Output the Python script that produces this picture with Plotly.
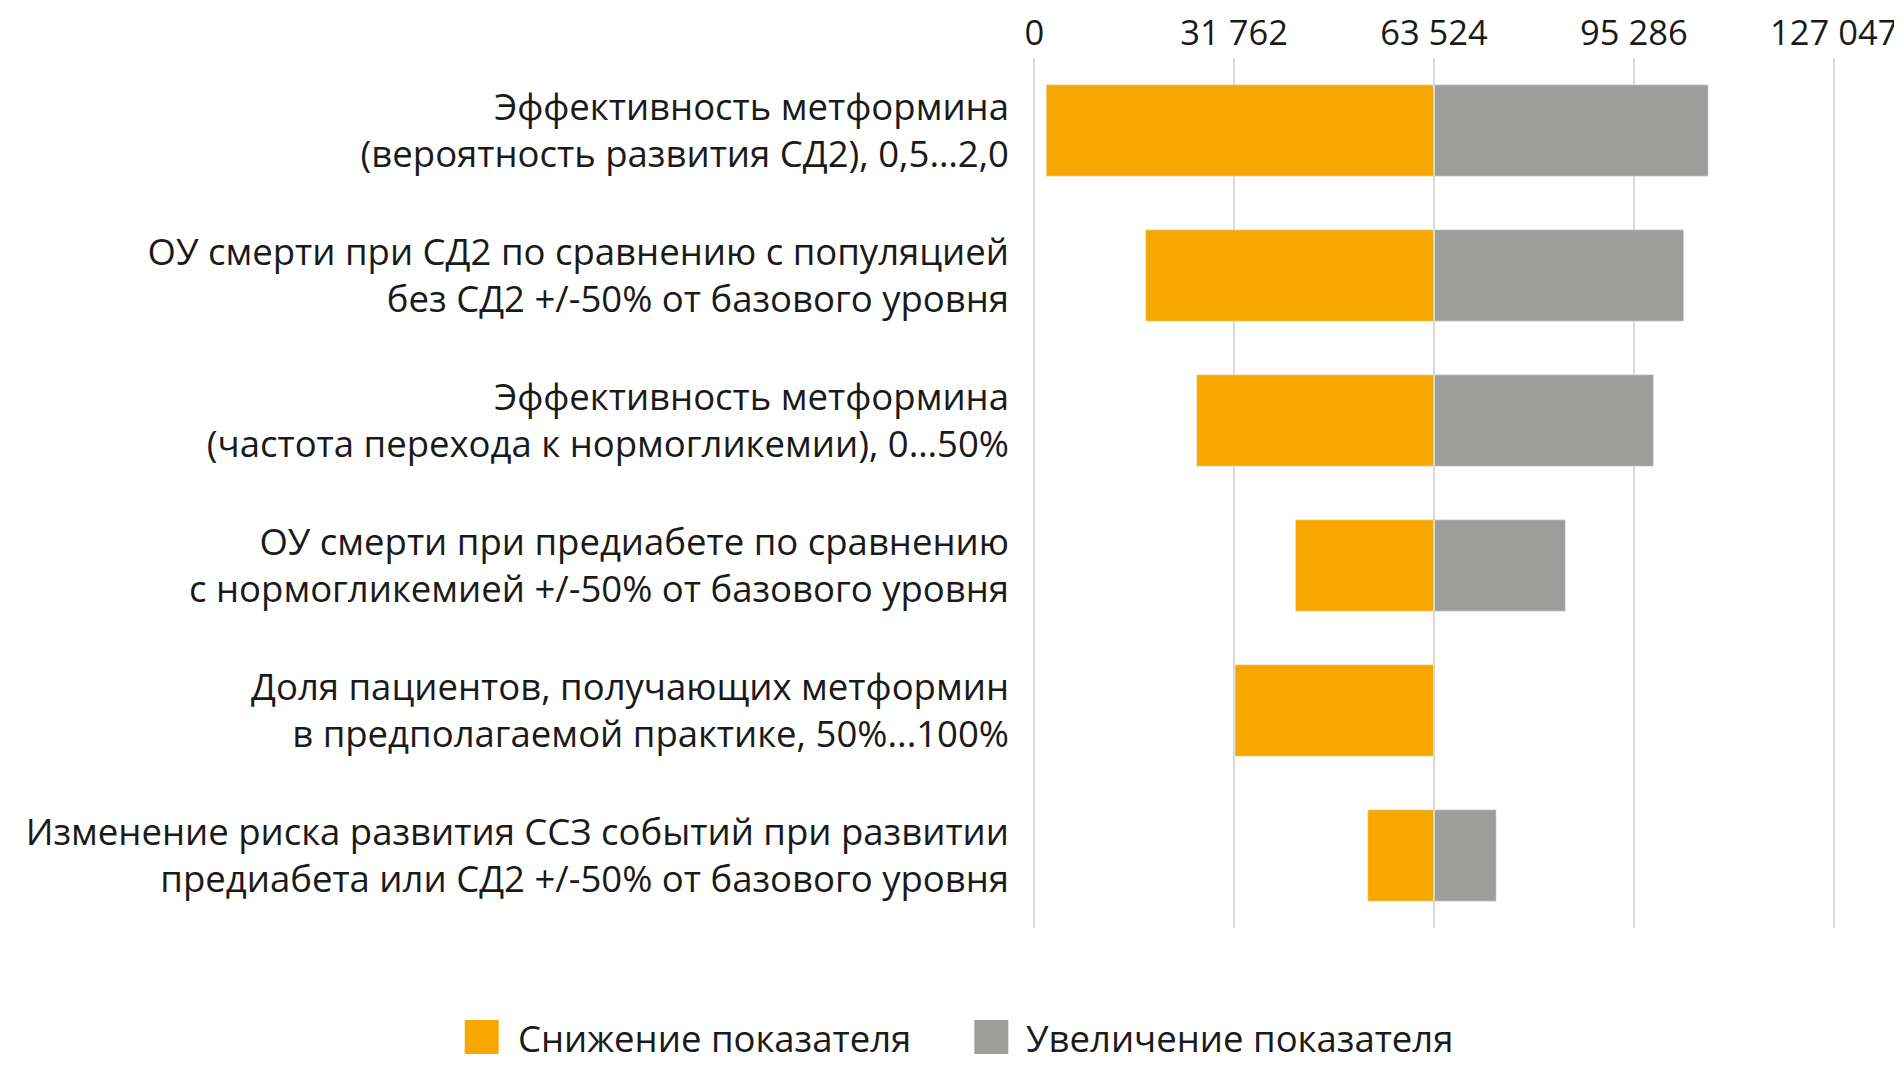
import plotly.graph_objects as go

categories = [
    "Эффективность метформина<br>(вероятность развития СД2), 0,5…2,0",
    "ОУ смерти при СД2 по сравнению с популяцией<br>без СД2 +/-50% от базового уровня",
    "Эффективность метформина<br>(частота перехода к нормогликемии), 0…50%",
    "ОУ смерти при предиабете по сравнению<br>с нормогликемией +/-50% от базового уровня",
    "Доля пациентов, получающих метформин<br>в предполагаемой практике, 50%...100%",
    "Изменение риска развития ССЗ событий при развитии<br>предиабета или СД2 +/-50% от базового уровня",
]
base_value = 63524
low_values = [1900, 17700, 25800, 41500, 31900, 53000]
high_values = [107100, 103200, 98400, 84400, 63524, 73400]
tick_values = [0, 31762, 63524, 95286, 127047]
tick_labels = ["0", "31 762", "63 524", "95 286", "127 047"]
series_names = ["Снижение показателя", "Увеличение показателя"]

ORANGE = "#F6A800"
GRAY = "#9D9D9C"
GRID = "#D9D9D9"
FONT = "Open Sans"
TEXT = "#1a1a1a"

# figure geometry (page body adds 8px offset)
W, H = 1894, 1057
x_min, x_max = -1000, 128047
px_per_unit = 800 / 127047
zero_px = 1026
plot_left = zero_px - (0 - x_min) * px_per_unit
plot_right = zero_px + x_max * px_per_unit
plot_top, plot_bottom = 50, 920
plot_w = plot_right - plot_left
plot_h = plot_bottom - plot_top


def px(x):
    return (x - plot_left) / plot_w


def py(y):
    return (plot_bottom - y) / plot_h


fig = go.Figure()
fig.add_trace(go.Bar(
    y=categories,
    x=[base_value - v for v in low_values],
    base=low_values,
    orientation="h",
    name=series_names[0],
    marker=dict(color=ORANGE),
    showlegend=False,
))
fig.add_trace(go.Bar(
    y=categories,
    x=[v - base_value for v in high_values],
    base=[base_value] * len(high_values),
    orientation="h",
    name=series_names[1],
    marker=dict(color=GRAY),
    showlegend=False,
))

# legend drawn as swatches + text
legend_items = [
    (series_names[0], ORANGE, 456, 507),
    (series_names[1], GRAY, 966, 1016),
]
shapes = [dict(
    type="line", xref="x", yref="paper",
    x0=base_value, x1=base_value, y0=0, y1=1,
    line=dict(color=GRID, width=2), layer="above",
)]
annotations = []
for name, color, sx, tx in legend_items:
    shapes.append(dict(
        type="rect", xref="paper", yref="paper",
        x0=px(sx), x1=px(sx + 34), y0=py(1046), y1=py(1012),
        fillcolor=color, line=dict(width=0),
    ))
    annotations.append(dict(
        text=name, xref="paper", yref="paper",
        x=px(tx), y=py(1030), xanchor="left", yanchor="middle",
        showarrow=False, font=dict(family=FONT, size=36.5, color=TEXT),
    ))

fig.update_layout(
    width=W,
    height=H,
    paper_bgcolor="white",
    plot_bgcolor="white",
    barmode="overlay",
    bargap=0.37,
    margin=dict(l=plot_left, r=W - plot_right, t=plot_top, b=H - plot_bottom),
    font=dict(family=FONT, color=TEXT, size=36),
    showlegend=False,
    shapes=shapes,
    annotations=annotations,
    xaxis=dict(
        side="top",
        range=[x_min, x_max],
        tickvals=tick_values,
        ticktext=tick_labels,
        tickfont=dict(size=34.5),
        showgrid=True,
        gridcolor=GRID,
        gridwidth=2,
        zeroline=False,
        showline=False,
        ticks="",
        ticklabelstandoff=5,
        ticklabeloverflow="allow",
        automargin=False,
        fixedrange=True,
    ),
    yaxis=dict(
        categoryorder="array",
        categoryarray=categories,
        autorange="reversed",
        tickfont=dict(size=36.5),
        showgrid=False,
        zeroline=False,
        showline=False,
        ticks="",
        ticklabelstandoff=18,
        automargin=False,
    ),
)

fig.write_html("out.html")
